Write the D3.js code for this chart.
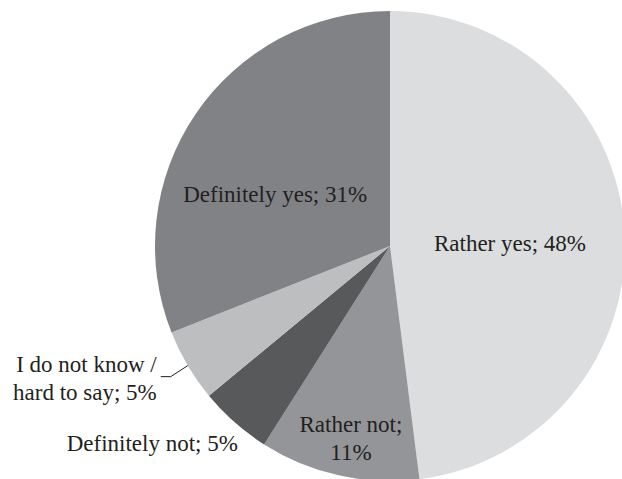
<!DOCTYPE html>
<html>
<head>
<meta charset="utf-8">
<script src="https://cdn.jsdelivr.net/npm/d3@7"></script>
<style>
  body { margin: 0; background: #fff; }
  text { font-family: "Liberation Serif", "DejaVu Serif", serif; fill: #231f20; }
</style>
</head>
<body>
<div class="piediv"></div>
<script>
// answers, clockwise from 12 o'clock
var categories = ["Rather yes", "Rather not", "Definitely not", "I do not know / hard to say", "Definitely yes"];
var values = [48, 11, 5, 5, 31];
// how each label is broken into lines
var labelLines = [
  ["Rather yes; 48%"],
  ["Rather not;", "11%"],
  ["Definitely not; 5%"],
  ["I do not know /", "hard to say; 5%"],
  ["Definitely yes; 31%"]
];

// grey tints of the slices
var colors = ["#dcddde", "#939598", "#58595b", "#bcbec0", "#808285"];

// label placement: angle (deg, clockwise from top) and distance from centre
var labelPos = [
  {angle: 88.6, r: 120, anchor: "middle"},
  {angle: 191.5, r: 196, anchor: "middle"},
  {angle: 217.65, r: 249, anchor: "end"},
  {angle: 240.5, r: 268, anchor: "end"},
  {angle: 294.3, r: 126, anchor: "middle"}
];

var width = 622, height = 479;
var radius = 235;
var cx = 390, cy = 246;
var fontSize = 23, lineHeight = 28;

var data = categories.map(function(c, i) { return {category: c, value: values[i], lines: labelLines[i]}; });

var color = d3.scaleOrdinal().domain(categories).range(colors);

var pie = d3.pie().sort(null).value(function(d) { return d.value; });
var arc = d3.arc().innerRadius(0).outerRadius(radius);

var svg = d3.select(".piediv")
    .append("svg")
    .attr("width", width)
    .attr("height", height)
    .append("g")
    .attr("transform", "translate(" + cx + "," + cy + ")");

var arcs = pie(data);

// slices
svg.selectAll(".slice")
    .data(arcs)
  .enter().append("path")
    .classed("slice", true)
    .attr("d", arc)
    .attr("fill", function(d) { return color(d.data.category); });

function polar(deg, r) {
  var a = deg * Math.PI / 180;
  return [r * Math.sin(a), -r * Math.cos(a)];
}

// leader line for the small "I do not know" slice
var dk = arcs[3];
var mid = (dk.startAngle + dk.endAngle) / 2 * 180 / Math.PI;
var p0 = polar(mid, radius);
var p1 = [p0[0] - 17, p0[1] + 11];
var p2 = [p1[0] - 10, p1[1]];
svg.append("path")
    .attr("d", d3.line()([p0, p1, p2]))
    .attr("fill", "none")
    .attr("stroke", "#231f20")
    .attr("stroke-width", 1);

// labels
arcs.forEach(function(d, i) {
  var pos = labelPos[i];
  var p = polar(pos.angle, pos.r);
  var n = d.data.lines.length;
  var t = svg.append("text")
      .attr("text-anchor", pos.anchor)
      .style("font-size", fontSize + "px");
  d.data.lines.forEach(function(line, j) {
    t.append("tspan")
        .attr("x", p[0])
        .attr("y", p[1] - (n - 1) * lineHeight / 2 + j * lineHeight + fontSize * 0.35)
        .text(line);
  });
});
</script>
</body>
</html>
